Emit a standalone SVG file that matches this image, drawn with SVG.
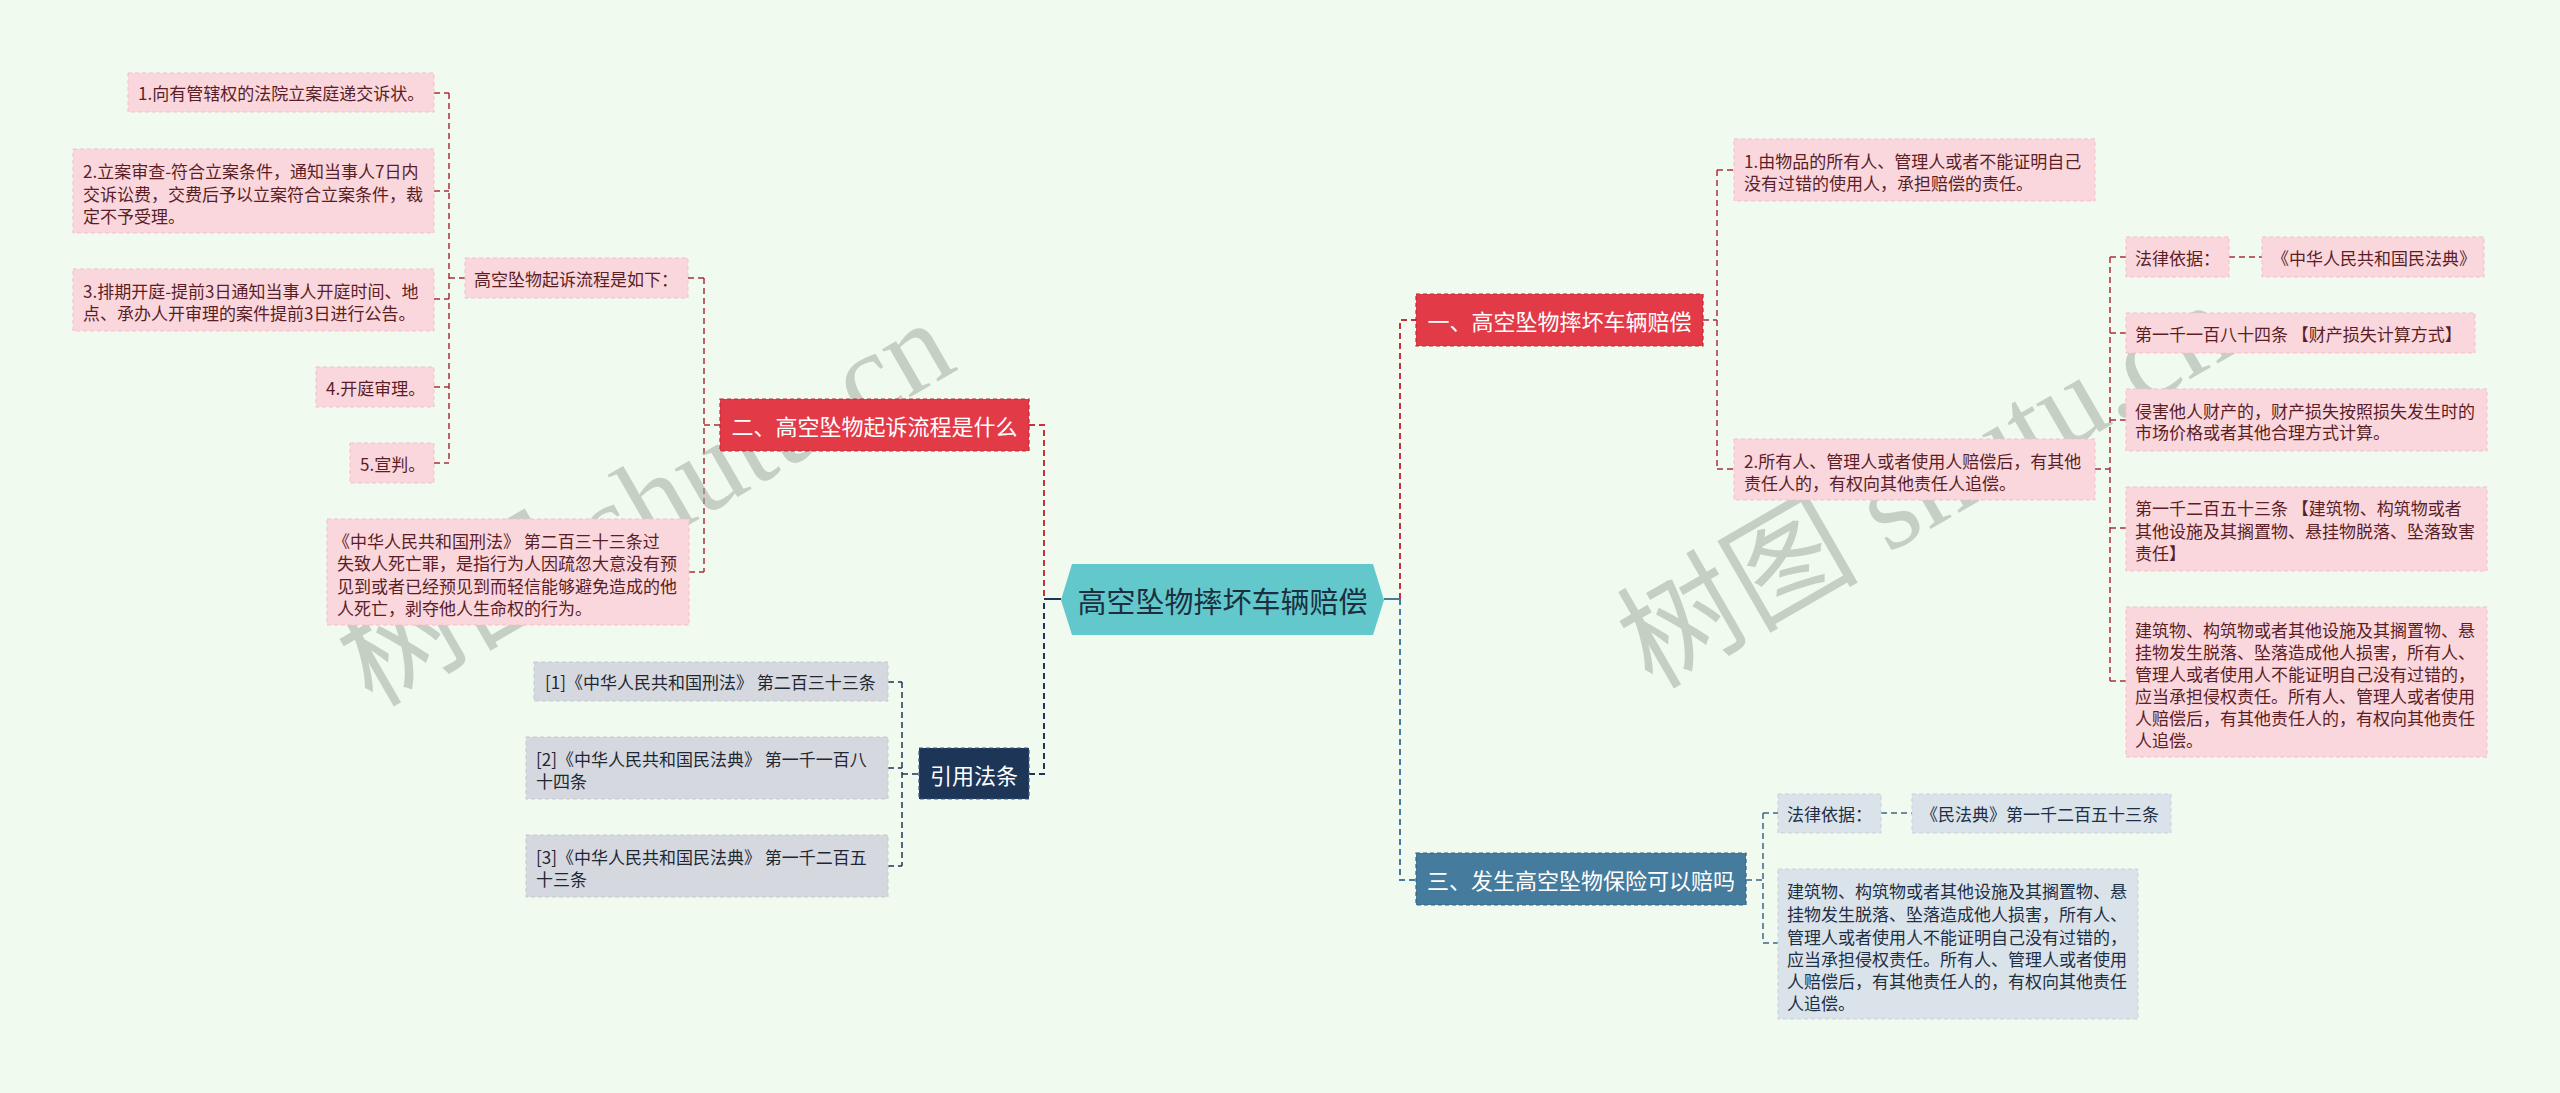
<svg xmlns="http://www.w3.org/2000/svg" width="2560" height="1093" viewBox="0 0 2560 1093">
<defs>
<style>
text{font-family:"Noto Sans CJK SC","Noto Sans",sans-serif;dominant-baseline:central}
.s{font-size:17px}
.pk rect{fill:#fad7dc;stroke:#f2bfc6;stroke-width:1;stroke-dasharray:4 3}
.pk text{fill:#5a1e27}
.gy rect{fill:#d5d9df;stroke:#c3c8d0;stroke-width:1;stroke-dasharray:4 3}
.gy text{fill:#1f2733}
.bg rect{fill:#dbe3ea;stroke:#c7d1db;stroke-width:1;stroke-dasharray:4 3}
.bg text{fill:#1d2f45}
.rd rect{fill:#e33a48;stroke:#b82a36;stroke-width:1.2;stroke-dasharray:4 3}
.rd text,.nv text,.bl text{fill:#ffffff;font-size:22px}
.nv rect{fill:#1d3557;stroke:#3d5a80;stroke-width:1.2;stroke-dasharray:4 3}
.bl rect{fill:#457b9d;stroke:#35627f;stroke-width:1.2;stroke-dasharray:4 3}
.c path{fill:none;stroke-dasharray:6 4}
.cr{stroke:#c8303f;stroke-width:2}
.cm{stroke:#a8303e;stroke-width:1.5}
.cn{stroke:#1d3557;stroke-width:2}
.cnl{stroke:#1d3557;stroke-width:1.5}
.cb{stroke:#457b9d;stroke-width:2}
.cbl{stroke:#3e6688;stroke-width:1.5}
.wm{font-family:"Liberation Serif","Noto Sans CJK SC",serif;font-size:121px;fill:#a3ada3;opacity:0.55;dominant-baseline:auto}
</style>
</defs>
<rect x="0" y="0" width="2560" height="1093" fill="#f1faee"/>

<g id="connectors" class="c">
<path class="cm" d="M434 93H449M434 191H449M434 299H449M434 387H449M434 463H449M449 93V463M449 278H465"/>
<path class="cm" d="M688 278H704M689 572H704M704 278V572M704 425H720"/>
<path class="cr" d="M1029 425H1044V599"/>
<path class="cnl" d="M888 682H902M888 768H902M888 866H902M902 682V866M902 774H919"/>
<path class="cn" d="M1029 774H1044V599"/>
<path class="cn" d="M1044 599H1061" style="stroke-dasharray:none"/>
<path class="cb" d="M1384 599H1400" style="stroke-dasharray:none"/>
<path class="cr" d="M1400 599V320H1416"/>
<path class="cm" d="M1703 320H1717M1717 170V469M1717 170H1734M1717 469H1734"/>
<path class="cm" d="M2095 469H2110M2110 257V681M2110 257H2126M2110 333H2126M2110 420H2126M2110 528H2126M2110 681H2126M2229 257H2262"/>
<path class="cb" d="M1400 599V880H1416"/>
<path class="cbl" d="M1746 880H1763M1763 813V943M1763 813H1778M1763 943H1778M1881 813H1912"/>
</g>

<text class="wm" transform="translate(372,708) rotate(-30)">树图 shutu.cn</text>
<text class="wm" transform="translate(1652,690) rotate(-30)">树图 shutu.cn</text>

<g id="root">
<polygon points="1061,600 1072,564 1373,564 1384,600 1373,635 1072,635" fill="#63c8cc"/>
<text x="1222.5" y="600" text-anchor="middle" font-size="29" fill="#1b2f3e">高空坠物摔坏车辆赔偿</text>
</g>

<g id="n-two" class="rd"><rect x="720" y="399" width="309" height="52"/><text x="874.5" y="425" text-anchor="middle">二、高空坠物起诉流程是什么</text></g>
<g id="n-q" class="pk"><rect x="465" y="258" width="223" height="40"/><text class="s" x="474" y="278">高空坠物起诉流程是如下：</text></g>
<g id="n-p1" class="pk"><rect x="128" y="73" width="306" height="39"/><text class="s" x="138" y="92.5">1.向有管辖权的法院立案庭递交诉状。</text></g>
<g id="n-p2" class="pk"><rect x="73" y="149" width="361" height="84"/><text class="s"><tspan x="83" y="170">2.立案审查-符合立案条件，通知当事人7日内</tspan><tspan x="83" y="192.5">交诉讼费，交费后予以立案符合立案条件，裁</tspan><tspan x="83" y="215">定不予受理。</tspan></text></g>
<g id="n-p3" class="pk"><rect x="73" y="269" width="361" height="62"/><text class="s"><tspan x="83" y="290">3.排期开庭-提前3日通知当事人开庭时间、地</tspan><tspan x="83" y="312">点、承办人开审理的案件提前3日进行公告。</tspan></text></g>
<g id="n-p4" class="pk"><rect x="316" y="367" width="118" height="40"/><text class="s" x="326" y="387">4.开庭审理。</text></g>
<g id="n-p5" class="pk"><rect x="350" y="443" width="84" height="40"/><text class="s" x="360" y="463">5.宣判。</text></g>
<g id="n-law" class="pk"><rect x="327" y="519" width="362" height="106"/><text class="s"><tspan x="333" y="540">《中华人民共和国刑法》 第二百三十三条过</tspan><tspan x="337" y="562">失致人死亡罪，是指行为人因疏忽大意没有预</tspan><tspan x="337" y="584.5">见到或者已经预见到而轻信能够避免造成的他</tspan><tspan x="337" y="607">人死亡，剥夺他人生命权的行为。</tspan></text></g>

<g id="n-cite" class="nv"><rect x="919" y="748" width="110" height="51"/><text x="974" y="774" text-anchor="middle">引用法条</text></g>
<g id="n-c1" class="gy"><rect x="534" y="662" width="354" height="39"/><text class="s" x="545" y="681.5">[1]《中华人民共和国刑法》 第二百三十三条</text></g>
<g id="n-c2" class="gy"><rect x="526" y="737" width="362" height="62"/><text class="s"><tspan x="536" y="758">[2]《中华人民共和国民法典》 第一千一百八</tspan><tspan x="536" y="780">十四条</tspan></text></g>
<g id="n-c3" class="gy"><rect x="526" y="835" width="362" height="62"/><text class="s"><tspan x="536" y="856">[3]《中华人民共和国民法典》 第一千二百五</tspan><tspan x="536" y="878">十三条</tspan></text></g>

<g id="n-one" class="rd"><rect x="1416" y="294" width="287" height="52"/><text x="1559.5" y="320" text-anchor="middle">一、高空坠物摔坏车辆赔偿</text></g>
<g id="n-a1" class="pk"><rect x="1734" y="139" width="361" height="62"/><text class="s"><tspan x="1744" y="160">1.由物品的所有人、管理人或者不能证明自己</tspan><tspan x="1744" y="182">没有过错的使用人，承担赔偿的责任。</tspan></text></g>
<g id="n-a2" class="pk"><rect x="1734" y="439" width="361" height="61"/><text class="s"><tspan x="1744" y="460">2.所有人、管理人或者使用人赔偿后，有其他</tspan><tspan x="1744" y="482">责任人的，有权向其他责任人追偿。</tspan></text></g>
<g id="n-b1" class="pk"><rect x="2126" y="237" width="103" height="40"/><text class="s" x="2135" y="257">法律依据：</text></g>
<g id="n-b1b" class="pk"><rect x="2262" y="237" width="222" height="40"/><text class="s" x="2272" y="257">《中华人民共和国民法典》</text></g>
<g id="n-b2" class="pk"><rect x="2126" y="313" width="349" height="40"/><text class="s" x="2135" y="333">第一千一百八十四条 【财产损失计算方式】</text></g>
<g id="n-b3" class="pk"><rect x="2126" y="389" width="361" height="62"/><text class="s"><tspan x="2135" y="410">侵害他人财产的，财产损失按照损失发生时的</tspan><tspan x="2135" y="431">市场价格或者其他合理方式计算。</tspan></text></g>
<g id="n-b4" class="pk"><rect x="2126" y="487" width="361" height="84"/><text class="s"><tspan x="2135" y="507">第一千二百五十三条 【建筑物、构筑物或者</tspan><tspan x="2135" y="530">其他设施及其搁置物、悬挂物脱落、坠落致害</tspan><tspan x="2135" y="552">责任】</tspan></text></g>
<g id="n-b5" class="pk"><rect x="2126" y="607" width="361" height="150"/><text class="s"><tspan x="2135" y="629">建筑物、构筑物或者其他设施及其搁置物、悬</tspan><tspan x="2135" y="651">挂物发生脱落、坠落造成他人损害，所有人、</tspan><tspan x="2135" y="673">管理人或者使用人不能证明自己没有过错的，</tspan><tspan x="2135" y="695">应当承担侵权责任。所有人、管理人或者使用</tspan><tspan x="2135" y="717">人赔偿后，有其他责任人的，有权向其他责任</tspan><tspan x="2135" y="739">人追偿。</tspan></text></g>

<g id="n-three" class="bl"><rect x="1416" y="853" width="330" height="52"/><text x="1581" y="879" text-anchor="middle">三、发生高空坠物保险可以赔吗</text></g>
<g id="n-d1" class="bg"><rect x="1778" y="794" width="103" height="39"/><text class="s" x="1787" y="813.5">法律依据：</text></g>
<g id="n-d1b" class="bg"><rect x="1912" y="794" width="259" height="39"/><text class="s" x="1921" y="813.5">《民法典》第一千二百五十三条</text></g>
<g id="n-d2" class="bg"><rect x="1778" y="869" width="360" height="150"/><text class="s"><tspan x="1787" y="890">建筑物、构筑物或者其他设施及其搁置物、悬</tspan><tspan x="1787" y="913">挂物发生脱落、坠落造成他人损害，所有人、</tspan><tspan x="1787" y="935.5">管理人或者使用人不能证明自己没有过错的，</tspan><tspan x="1787" y="958">应当承担侵权责任。所有人、管理人或者使用</tspan><tspan x="1787" y="980">人赔偿后，有其他责任人的，有权向其他责任</tspan><tspan x="1787" y="1002">人追偿。</tspan></text></g>
</svg>
